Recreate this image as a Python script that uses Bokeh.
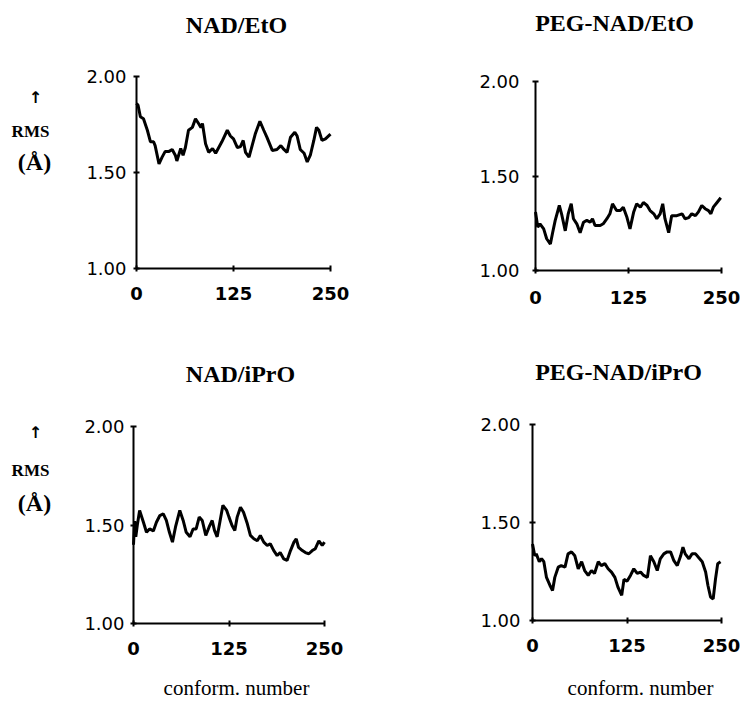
from bokeh.plotting import figure
from bokeh.models import Range1d, FixedTicker, PrintfTickFormatter, Label, LinearAxis
from bokeh.layouts import column, row
from bokeh.embed import file_html
from bokeh.resources import INLINE

# ---------------- data ----------------
titles = ["NAD/EtO", "PEG-NAD/EtO", "NAD/iPrO", "PEG-NAD/iPrO"]
x_ticks = [0, 125, 250]
y_ticks = [1.00, 1.50, 2.00]

x_eto = [0, 2, 5, 9, 14, 18, 22, 24, 29, 33, 37, 42, 46, 50, 52, 57, 60, 63, 67, 72,
         76, 80, 83, 85, 89, 93, 98, 102, 106, 110, 117, 121, 125, 130, 134, 137.5, 140.5, 145, 149, 153,
         159, 164, 168, 175, 181, 186, 190, 194, 198.5, 204, 207, 211, 216, 220, 224, 228.5, 232, 235, 239, 243.5,
         250]
y_eto = [1.86, 1.85, 1.79, 1.78, 1.72, 1.66, 1.66, 1.64, 1.545, 1.58, 1.61, 1.61, 1.62, 1.59, 1.56, 1.625, 1.59, 1.63, 1.72, 1.735,
         1.78, 1.755, 1.735, 1.755, 1.65, 1.605, 1.625, 1.60, 1.63, 1.66, 1.72, 1.69, 1.675, 1.63, 1.635, 1.667, 1.605, 1.58, 1.64, 1.70,
         1.767, 1.72, 1.684, 1.615, 1.62, 1.64, 1.62, 1.605, 1.684, 1.71, 1.69, 1.62, 1.60, 1.555, 1.59, 1.667, 1.735, 1.72, 1.667, 1.675,
         1.70]

x_peg_eto = [0, 3, 6, 11, 15, 20, 23, 26.5, 32, 35, 40, 44, 48, 51, 55.5, 60, 64.5, 69, 73.5, 76.6,
             80, 87, 91, 96, 100, 103.5, 109, 114, 118, 123, 127, 132, 136, 141, 145, 150, 154, 159, 163, 167.5,
             171, 174, 179, 183, 190, 197, 201, 206, 210, 215, 219, 223.5, 228, 232.5, 235.7, 239, 244, 249]
y_peg_eto = [1.31, 1.23, 1.247, 1.22, 1.168, 1.14, 1.20, 1.265, 1.344, 1.30, 1.21, 1.30, 1.353, 1.274, 1.247, 1.20, 1.255, 1.265, 1.255, 1.274,
             1.238, 1.238, 1.247, 1.274, 1.30, 1.353, 1.317, 1.317, 1.335, 1.28, 1.22, 1.31, 1.353, 1.335, 1.36, 1.344, 1.317, 1.30, 1.274, 1.30,
             1.353, 1.274, 1.20, 1.29, 1.29, 1.30, 1.274, 1.28, 1.30, 1.29, 1.31, 1.344, 1.327, 1.317, 1.30, 1.335, 1.36, 1.385]

x_ipro = [0, 1.5, 3, 5, 8, 13, 17, 21, 26, 30, 34.5, 39, 43, 47, 51, 55, 60.6, 65, 69, 74,
          78, 82, 86, 90, 94.6, 99, 103, 106, 109.5, 113, 117, 122, 125, 129, 132.6, 135.7, 140, 144, 149, 153,
          157.5, 162, 166, 170.5, 175, 179, 183.6, 188, 192, 196.7, 201, 205.5, 210, 213, 216, 221, 225, 229.5, 234, 238,
          242.6, 247, 250]
y_ipro = [1.40, 1.52, 1.44, 1.50, 1.574, 1.514, 1.463, 1.48, 1.47, 1.514, 1.548, 1.557, 1.523, 1.463, 1.413, 1.49, 1.574, 1.523, 1.463, 1.44,
          1.48, 1.48, 1.54, 1.523, 1.447, 1.49, 1.523, 1.473, 1.44, 1.514, 1.60, 1.574, 1.54, 1.497, 1.472, 1.54, 1.59, 1.565, 1.506, 1.447,
          1.43, 1.42, 1.447, 1.413, 1.396, 1.405, 1.37, 1.345, 1.36, 1.328, 1.32, 1.37, 1.413, 1.43, 1.387, 1.37, 1.36, 1.354, 1.37, 1.38,
          1.42, 1.396, 1.413]

x_peg_ipro = [0, 3, 5, 9, 12, 15, 18.5, 23, 26.5, 29.5, 34, 38, 43, 47, 51.6, 56, 60.5, 65, 69, 73.7,
              78, 82, 87, 91, 95.7, 100, 104.5, 109, 113, 118, 121, 125, 129.6, 134, 138.5, 143, 147, 152, 156, 160.5,
              165, 169, 173.7, 178, 182.6, 187, 191.5, 196, 199, 202, 207, 211, 215.7, 220, 224.5, 229, 232, 235.5, 239, 242,
              245, 248.7]
y_peg_ipro = [1.39, 1.33, 1.34, 1.30, 1.315, 1.30, 1.22, 1.18, 1.153, 1.22, 1.272, 1.28, 1.272, 1.34, 1.35, 1.33, 1.264, 1.30, 1.255, 1.23,
              1.255, 1.24, 1.30, 1.28, 1.29, 1.264, 1.247, 1.22, 1.17, 1.128, 1.21, 1.20, 1.23, 1.264, 1.24, 1.247, 1.23, 1.22, 1.33, 1.30,
              1.255, 1.315, 1.34, 1.35, 1.35, 1.305, 1.28, 1.33, 1.374, 1.34, 1.315, 1.34, 1.34, 1.32, 1.30, 1.247, 1.18, 1.12, 1.11, 1.21,
              1.29, 1.30]

series = [(x_eto, y_eto), (x_peg_eto, y_peg_eto), (x_ipro, y_ipro), (x_peg_ipro, y_peg_ipro)]

# ---------------- layout (pixels) ----------------
SERIF = "Liberation Serif"
SANS = "DejaVu Sans"
X0, X1, Y0, Y1 = 0, 250, 1.0, 2.0
# canvas (x, y, w, h) and axis box (left, top, width, height), in page pixels
canvas = [(0, 0, 371, 351), (371, 0, 369, 351), (0, 351, 371, 349), (371, 351, 369, 349)]
axbox = [(136, 76, 194, 192), (535, 81, 186, 189), (133, 426, 191, 197), (532, 424, 189, 196)]
ystandoff = [7, 13, 6, 9]
xstandoff = [15, 17, 15, 15]
title_pos = [(236, 24.5), (614, 22), (240, 373.5), (618, 371.5)]
ylab_pos = {0: [(35, 96.5), (30, 130.5), (34, 161)], 2: [(35, 432), (30, 470), (34, 502)]}
xlab_pos = {2: (236, 687), 3: (640, 687)}


def make_panel(i):
    ox, oy, cw, ch = canvas[i]
    fl, ft, fw, fh = axbox[i]
    fb = ft + fh
    sx = (X1 - X0) / fw
    sy = (Y1 - Y0) / fh

    def dx(px):
        return X0 + (px - fl) * sx

    def dy(py):
        return Y0 + (fb - py) * sy

    p = figure(width=cw, height=ch, min_border=0,
               x_range=Range1d(dx(ox), dx(ox + cw)), y_range=Range1d(dy(oy + ch), dy(oy)),
               x_axis_type=None, y_axis_type=None,
               output_backend="svg", toolbar_location=None,
               background_fill_color="white", border_fill_color="white")
    p.outline_line_color = None
    p.grid.visible = False

    xa = LinearAxis(fixed_location=Y0, bounds=(X0, X1), ticker=FixedTicker(ticks=x_ticks))
    ya = LinearAxis(fixed_location=X0, bounds=(Y0, Y1), ticker=FixedTicker(ticks=y_ticks),
                    formatter=PrintfTickFormatter(format="%.2f"))
    for ax in (xa, ya):
        ax.axis_line_width = 2
        ax.axis_line_color = "black"
        ax.major_tick_line_width = 2
        ax.major_tick_line_color = "black"
        ax.major_tick_in = 3
        ax.major_tick_out = 3
        ax.minor_tick_line_color = None
        ax.major_label_text_font = SANS
        ax.major_label_text_font_size = "18px"
        ax.major_label_text_color = "black"
    xa.major_label_text_font_style = "bold"
    xa.major_label_standoff = xstandoff[i]
    ya.major_label_standoff = ystandoff[i]
    p.add_layout(xa, "below")
    p.add_layout(ya, "left")

    xs, ys = series[i]
    p.line(xs, ys, line_color="black", line_width=3)

    def lab(px, py, text, font, size, style):
        p.add_layout(Label(x=dx(px), y=dy(py), text=text, text_font=font, text_font_size=size,
                           text_font_style=style, text_align="center", text_baseline="middle",
                           text_color="black"))

    tx, ty = title_pos[i]
    lab(tx, ty, titles[i], SERIF, "24px", "bold")
    if i in ylab_pos:
        (ax_, ay_), (rx, ry), (ux, uy) = ylab_pos[i]
        lab(ax_, ay_, "\u2191", SANS, "16px", "bold")
        lab(rx, ry, "RMS", SERIF, "17px", "bold")
        lab(ux, uy, "(\u00c5)", SERIF, "24px", "bold")
    if i in xlab_pos:
        cx, cy = xlab_pos[i]
        lab(cx, cy, "conform. number", SERIF, "21px", "normal")
    return p


panels = [make_panel(i) for i in range(4)]
layout = column(row(panels[0], panels[1], spacing=0), row(panels[2], panels[3], spacing=0), spacing=0)

open("out.html", "w").write(file_html(layout, INLINE))
